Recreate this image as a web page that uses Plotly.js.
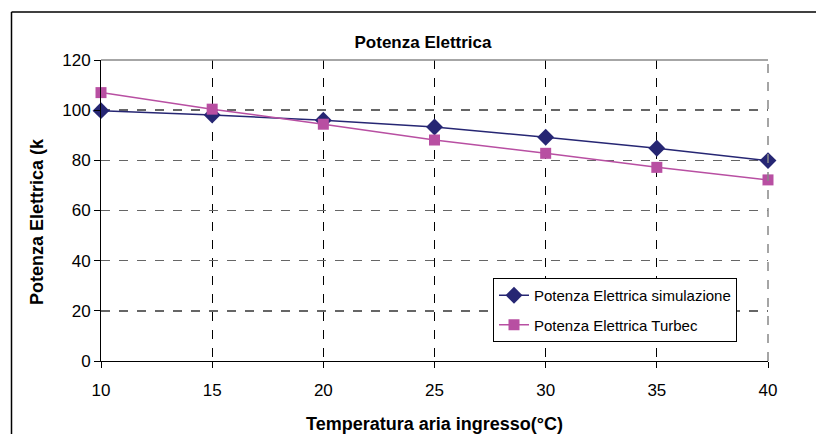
<!DOCTYPE html>
<html>
<head>
<meta charset="utf-8">
<script src="https://cdn.plot.ly/plotly-3.0.1.min.js"></script>
<style>html,body{margin:0;padding:0;background:#fff;}#chart{width:816px;height:434px;}</style>
</head>
<body>
<div id="chart"></div>
<script>
const temperature = [10, 15, 20, 25, 30, 35, 40];
const simulazione = [99.8, 98.1, 96.0, 93.3, 89.2, 84.8, 79.9];
const turbec = [107.0, 100.4, 94.4, 88.1, 82.8, 77.2, 72.2];
const seriesNames = ["Potenza Elettrica simulazione", "Potenza Elettrica Turbec"];
const yTicks = [0, 20, 40, 60, 80, 100, 120];
const xTicks = [10, 15, 20, 25, 30, 35, 40];

const FONT = "Liberation Sans, Arial, sans-serif";
const L = 101, R = 768, T = 60, B = 361, W = 816, H = 434;
const pw = R - L, ph = B - T;
const px = v => (v - L) / pw;
const py = v => (B - v) / ph;

const traces = [
  {x: temperature, y: simulazione, name: seriesNames[0], type: "scatter", mode: "lines+markers",
   legendgroup: "a", cliponaxis: false,
   line: {color: "#262673", width: 1.5}, marker: {symbol: "diamond", size: 13, color: "#262673"}},
  {x: temperature, y: turbec, name: seriesNames[1], type: "scatter", mode: "lines+markers",
   legendgroup: "b", cliponaxis: false,
   line: {color: "#b84fa2", width: 1.5}, marker: {symbol: "square", size: 11, color: "#b84fa2"}}
];

const layout = {
  width: W, height: H,
  margin: {l: L, r: W - R, t: T, b: H - B},
  paper_bgcolor: "#fff", plot_bgcolor: "#fff",
  font: {family: FONT, color: "#000", size: 16},
  showlegend: true,
  legend: {x: px(493), y: py(278), xanchor: "left", yanchor: "top",
           bordercolor: "#000", borderwidth: 1, bgcolor: "#fff",
           font: {family: FONT, size: 15, color: "#000"}, tracegroupgap: 7},
  title: {text: "<b>Potenza Elettrica</b>", x: 423 / W, xanchor: "center",
          y: 1 - 42 / H, yanchor: "middle", font: {family: FONT, size: 17, color: "#000"}},
  xaxis: {range: [10, 40], tickvals: xTicks, ticktext: xTicks.map(String),
          ticks: "outside", ticklen: 6, tickcolor: "#000", showline: true, linecolor: "#000", linewidth: 1,
          showgrid: true, gridcolor: "#000", griddash: "dash", gridwidth: 1, zeroline: false,
          ticklabelstandoff: 8,
          tickfont: {family: FONT, size: 17, color: "#000"},
          title: {text: "<b>Temperatura aria ingresso(°C)</b>", standoff: 18,
                  font: {family: FONT, size: 18, color: "#000"}}},
  yaxis: {range: [0, 120], tickvals: yTicks, ticktext: yTicks.map(String),
          ticks: "outside", ticklen: 6, tickcolor: "#000", showline: true, linecolor: "#000", linewidth: 1,
          showgrid: true, gridcolor: "#666", griddash: "dash", gridwidth: 1.5, zeroline: false,
          tickfont: {family: FONT, size: 17, color: "#000"}},
  annotations: [
    {text: "<b>Potenza Elettrica (k</b>", xref: "paper", yref: "paper", x: px(37), y: py(222),
     xanchor: "center", yanchor: "middle", textangle: -90, showarrow: false,
     font: {family: FONT, size: 18, color: "#000"}}
  ],
  shapes: [
    {type: "line", xref: "paper", yref: "paper", x0: 0, x1: 1, y0: 1, y1: 1, line: {color: "#888", width: 1.5}},
    {type: "line", xref: "paper", yref: "paper", x0: 1, x1: 1, y0: 0, y1: 1, line: {color: "#888", width: 1.5, dash: "dash"}},
    {type: "line", xref: "paper", yref: "paper", x0: px(11.5), x1: px(W + 5), y0: py(12), y1: py(12), line: {color: "#000", width: 1.5}},
    {type: "line", xref: "paper", yref: "paper", x0: px(11.5), x1: px(11.5), y0: py(12), y1: py(H + 5), line: {color: "#000", width: 1.5}}
  ]
};

Plotly.newPlot("chart", traces, layout, {displayModeBar: false, staticPlot: true});
</script>
</body>
</html>
